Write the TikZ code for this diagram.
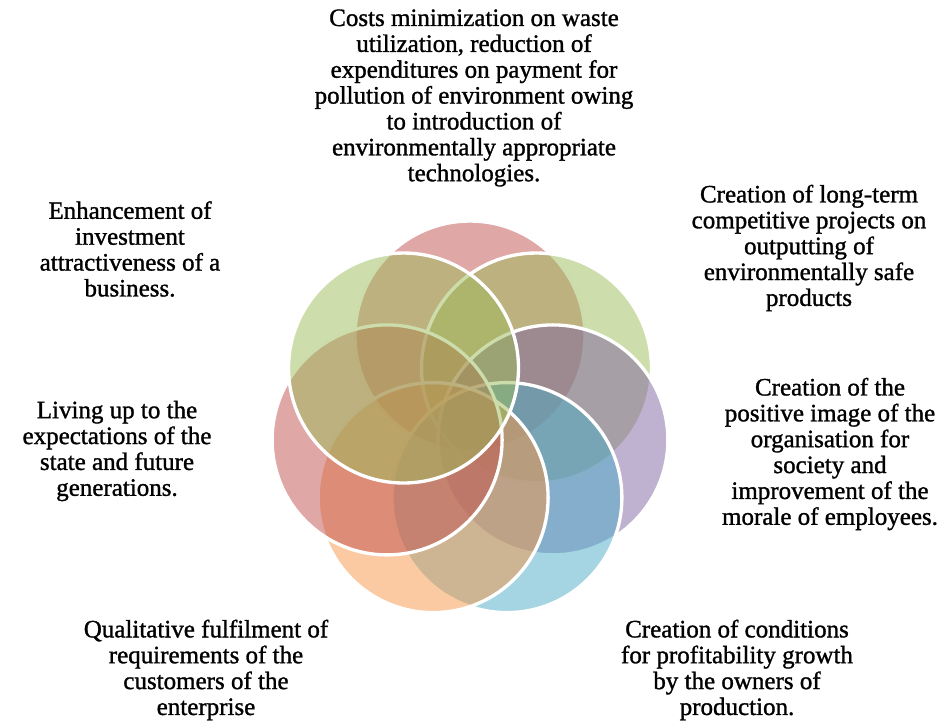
\documentclass[tikz,border=0pt]{standalone}
\usepackage{fontspec}
\setmainfont{Liberation Serif}[FakeBold=1.2]
\definecolor{cred}{HTML}{C0504D}
\definecolor{cgreen}{HTML}{9BBB59}
\definecolor{cpurple}{HTML}{8064A2}
\definecolor{caqua}{HTML}{4BACC6}
\definecolor{corange}{HTML}{F79646}
\begin{document}
\begin{tikzpicture}[x=0.75pt,y=-0.75pt,
  ring/.style={circle, inner sep=0pt, minimum size=172.5pt, fill opacity=0.5, draw=white, draw opacity=1, line width=2.5pt},
  lbl/.style={align=center, inner sep=0pt, font=\fontsize{18.75}{19.4}\selectfont}]
\useasboundingbox (0,0) rectangle (948,722);
\node[ring, fill=cred]    (c1) at (470,336) {};
\node[ring, fill=cgreen]  (c2) at (536.5,368) {};
\node[ring, fill=cpurple] (c3) at (552.9,439.9) {};
\node[ring, fill=caqua]   (c4) at (506.9,497.6) {};
\node[ring, fill=corange] (c5) at (433.1,497.6) {};
\node[ring, fill=cred]    (c6) at (387.1,439.9) {};
\node[ring, fill=cgreen]  (c7) at (403.5,368) {};
\node[lbl] (t1) at (474,98) {Costs minimization on waste\\utilization, reduction of\\expenditures on payment for\\pollution of environment owing\\to introduction of\\environmentally appropriate\\technologies.};
\node[lbl] (t2) at (809,248) {Creation of long-term\\competitive projects on\\outputting of\\environmentally safe\\products};
\node[lbl] (t3) at (830,454) {Creation of the\\positive image of the\\organisation for\\society and\\improvement of the\\morale of employees.};
\node[lbl] (t4) at (737,670) {Creation of conditions\\for profitability growth\\by the owners of\\production.};
\node[lbl] (t5) at (206,670) {Qualitative fulfilment of\\requirements of the\\customers of the\\enterprise};
\node[lbl] (t6) at (117,451) {Living up to the\\expectations of the\\state and future\\generations.};
\node[lbl] (t7) at (130,249) {Enhancement of\\investment\\attractiveness of a\\business.};
\end{tikzpicture}
\end{document}
